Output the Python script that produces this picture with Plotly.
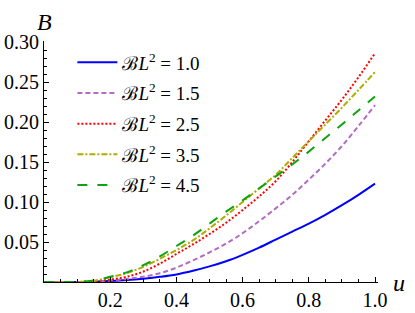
import plotly.graph_objects as go

u = [0.0, 0.05, 0.10, 0.15, 0.20, 0.25, 0.30, 0.35, 0.40, 0.45, 0.50,
     0.55, 0.60, 0.65, 0.70, 0.75, 0.80, 0.85, 0.90, 0.95, 1.00]

B_10 = [0.0, 0.0, 0.0, 0.0004, 0.0012, 0.0024, 0.0042, 0.0065, 0.0095, 0.014, 0.0195,
        0.026, 0.034, 0.043, 0.053, 0.063, 0.073, 0.084, 0.096, 0.109, 0.123]
B_15 = [0.0, 0.0, 0.0, 0.0006, 0.0018, 0.0038, 0.0066, 0.011, 0.018, 0.027, 0.037,
        0.048, 0.061, 0.076, 0.092, 0.109, 0.128, 0.148, 0.170, 0.195, 0.221]
B_25 = [0.0, 0.0, 0.0, 0.001, 0.003, 0.0065, 0.013, 0.023, 0.035, 0.047, 0.060,
        0.074, 0.090, 0.107, 0.126, 0.150, 0.176, 0.202, 0.228, 0.256, 0.286]
B_35 = [0.0, 0.0, 0.0, 0.0015, 0.006, 0.011, 0.019, 0.029, 0.040, 0.052, 0.067,
        0.083, 0.100, 0.117, 0.134, 0.155, 0.176, 0.197, 0.218, 0.240, 0.2625]
B_45 = [0.0, 0.0, 0.0, 0.002, 0.0065, 0.012, 0.021, 0.032, 0.045, 0.058, 0.073,
        0.088, 0.102, 0.117, 0.132, 0.147, 0.163, 0.180, 0.197, 0.2145, 0.232]

labels = ["1.0", "1.5", "2.5", "3.5", "4.5"]
series = [B_10, B_15, B_25, B_35, B_45]
colors = ["#0000FF", "#B36BC2", "#FF0000", "#ADAD00", "#0FA30F"]
dashes = ["solid", "5px,3px", "2px,2px", "6px,2px,2px,2px", "10px,10px"]

x_tickvals = [0.2, 0.4, 0.6, 0.8, 1.0]
x_ticktext = ["0.2", "0.4", "0.6", "0.8", "1.0"]
y_tickvals = [0.05, 0.10, 0.15, 0.20, 0.25, 0.30]
y_ticktext = ["0.05", "0.10", "0.15", "0.20", "0.25", "0.30"]

fig = go.Figure()
for lab, ys, c, d in zip(labels, series, colors, dashes):
    fig.add_trace(go.Scatter(
        x=u, y=ys, mode="lines", line_shape="spline",
        line=dict(color=c, width=2, dash=d),
        name="ℬ<i>L</i><sup>2</sup> = " + lab, legendgroup=lab,
    ))

serif = "Times New Roman, Liberation Serif, serif"
fig.update_layout(
    template="none",
    width=415, height=313,
    margin=dict(l=43.5, r=37, t=41, b=31, pad=0),
    paper_bgcolor="white", plot_bgcolor="white",
    font=dict(family=serif, size=19, color="black"),
    showlegend=True,
    legend=dict(x=0.085, y=0.99, xanchor="left", yanchor="top",
                bgcolor="rgba(0,0,0,0)", font=dict(family=serif, size=19),
                tracegroupgap=3, itemwidth=40),
    xaxis=dict(range=[0, 1.009], showline=True, linecolor="black", linewidth=1,
               showgrid=False, zeroline=False, ticks="inside", ticklen=5,
               automargin=False,
               tickcolor="black", tickvals=x_tickvals, ticktext=x_ticktext,
               minor=dict(tickvals=[i * 0.05 for i in range(21)], ticks="inside",
                          ticklen=3, tickcolor="black", showgrid=False),
               tickfont=dict(family=serif, size=20)),
    yaxis=dict(range=[0, 0.30125], showline=True, linecolor="black", linewidth=1,
               showgrid=False, zeroline=False, ticks="inside", ticklen=5,
               automargin=False,
               tickcolor="black", tickvals=y_tickvals, ticktext=y_ticktext,
               minor=dict(tickvals=[i * 0.01 for i in range(31)], ticks="inside",
                          ticklen=3, tickcolor="black", showgrid=False),
               tickfont=dict(family=serif, size=20)),
    annotations=[
        dict(text="<i>B</i>", x=0, y=1, xref="paper", yref="paper",
             xanchor="center", yanchor="bottom", yshift=4, showarrow=False,
             font=dict(family=serif, size=24)),
        dict(text="<i>u</i>", x=1, y=0, xref="paper", yref="paper",
             xanchor="center", yanchor="middle", xshift=21, yshift=-1, showarrow=False,
             font=dict(family=serif, size=24)),
    ],
)

fig.write_html("out.html", config={"displayModeBar": False},
               post_script="document.body.style.margin='0';document.body.style.overflow='hidden';")
